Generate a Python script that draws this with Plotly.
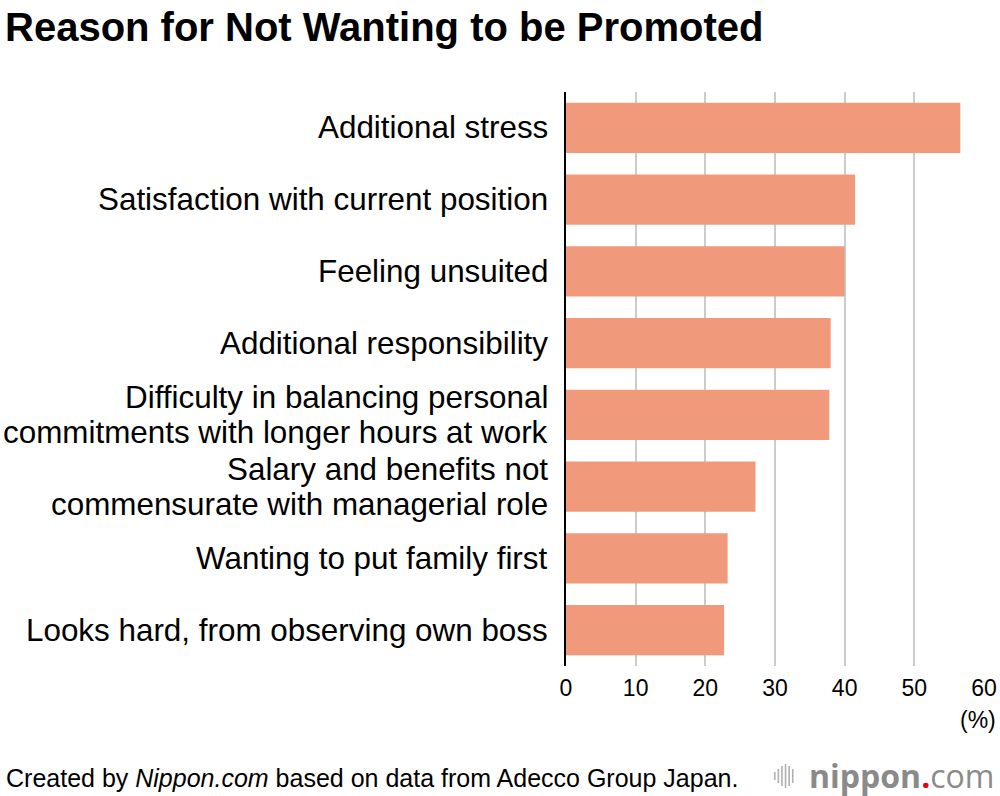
import plotly.graph_objects as go

categories = [
    "Additional stress",
    "Satisfaction with current position",
    "Feeling unsuited",
    "Additional responsibility",
    "Difficulty in balancing personal<br>commitments with longer hours at work",
    "Salary and benefits not<br>commensurate with managerial role",
    "Wanting to put family first",
    "Looks hard, from observing own boss",
]
values = [56.6, 41.5, 40.0, 38.0, 37.8, 27.2, 23.2, 22.7]
x_ticks = [0, 10, 20, 30, 40, 50, 60]

W, H = 1000, 796
L, R, T, B = 566, 15.5, 92, 130
pw, ph = W - L - R, H - T - B
FONT = "Liberation Sans, Arial, Helvetica, sans-serif"

def px(x):
    return (x - L) / pw

def py(y):
    return 1 - (y - T) / ph

fig = go.Figure(go.Bar(
    x=values, y=categories, orientation="h",
    marker=dict(color="#F19A7B", line=dict(width=0)),
    hoverinfo="skip",
))

fig.update_layout(
    width=W, height=H,
    margin=dict(l=L, r=R, t=T, b=B, autoexpand=False),
    paper_bgcolor="white", plot_bgcolor="white",
    bargap=0.3,
    showlegend=False,
    font=dict(family=FONT, color="black"),
    xaxis=dict(
        range=[0, 60], tickvals=x_ticks, showgrid=True,
        gridcolor="#cccccc", gridwidth=2, zeroline=False, showline=False,
        ticks="", tickfont=dict(size=23, color="black"), ticklabelstandoff=6,
        fixedrange=True,
    ),
    yaxis=dict(
        autorange="reversed", showgrid=False, zeroline=False,
        showline=True, linecolor="black", linewidth=2,
        ticks="", showticklabels=False,
        fixedrange=True,
    ),
)

annotations = []
# category labels, line spacing matched to reference
LINE = 35
for cat in categories:
    lines = cat.split("<br>")
    n = len(lines)
    for i, ln in enumerate(lines):
        annotations.append(dict(
            text=ln, xref="paper", x=px(550), yref="y", y=cat,
            xanchor="right", yanchor="middle", showarrow=False,
            yshift=((n - 1) / 2 - i) * LINE,
            font=dict(size=31.4, color="black", family=FONT),
        ))

annotations += [
    dict(text="<b>Reason for Not Wanting to be Promoted</b>", xref="paper", yref="paper",
         x=px(2), y=py(27), xanchor="left", yanchor="middle", showarrow=False,
         font=dict(size=40, color="black", family=FONT)),
    dict(text="(%)", xref="paper", yref="paper", x=px(999), y=py(720),
         xanchor="right", yanchor="middle", showarrow=False,
         font=dict(size=23, color="black", family=FONT)),
    dict(text="Created by <i>Nippon.com</i> based on data from Adecco Group Japan.",
         xref="paper", yref="paper", x=px(3), y=py(778), xanchor="left",
         yanchor="middle", showarrow=False, font=dict(size=25, color="black", family=FONT)),
    dict(text="<b>nippon</b><span style='color:#e60012'><b>.</b></span>com",
         xref="paper", yref="paper", x=px(996), y=py(775), xanchor="right",
         yanchor="middle", showarrow=False, borderpad=0,
         font=dict(size=32, color="#8a8a8a", family="Open Sans, Liberation Sans, sans-serif")),
]
fig.update_layout(annotations=annotations)

# small logo icon: gray vertical bars
bar_heights = [8, 14, 20, 24, 20, 14]
shapes = []
for i, hgt in enumerate(bar_heights):
    xx = 775 + i * 3.6
    shapes.append(dict(type="line", xref="paper", yref="paper",
                       x0=px(xx), x1=px(xx), y0=py(776 - hgt / 2), y1=py(776 + hgt / 2),
                       line=dict(color="#b0b0b0", width=1.6)))
fig.update_layout(shapes=shapes)

fig.write_html("out.html", config={"displayModeBar": False},
               post_script="document.body.style.margin='0';")
